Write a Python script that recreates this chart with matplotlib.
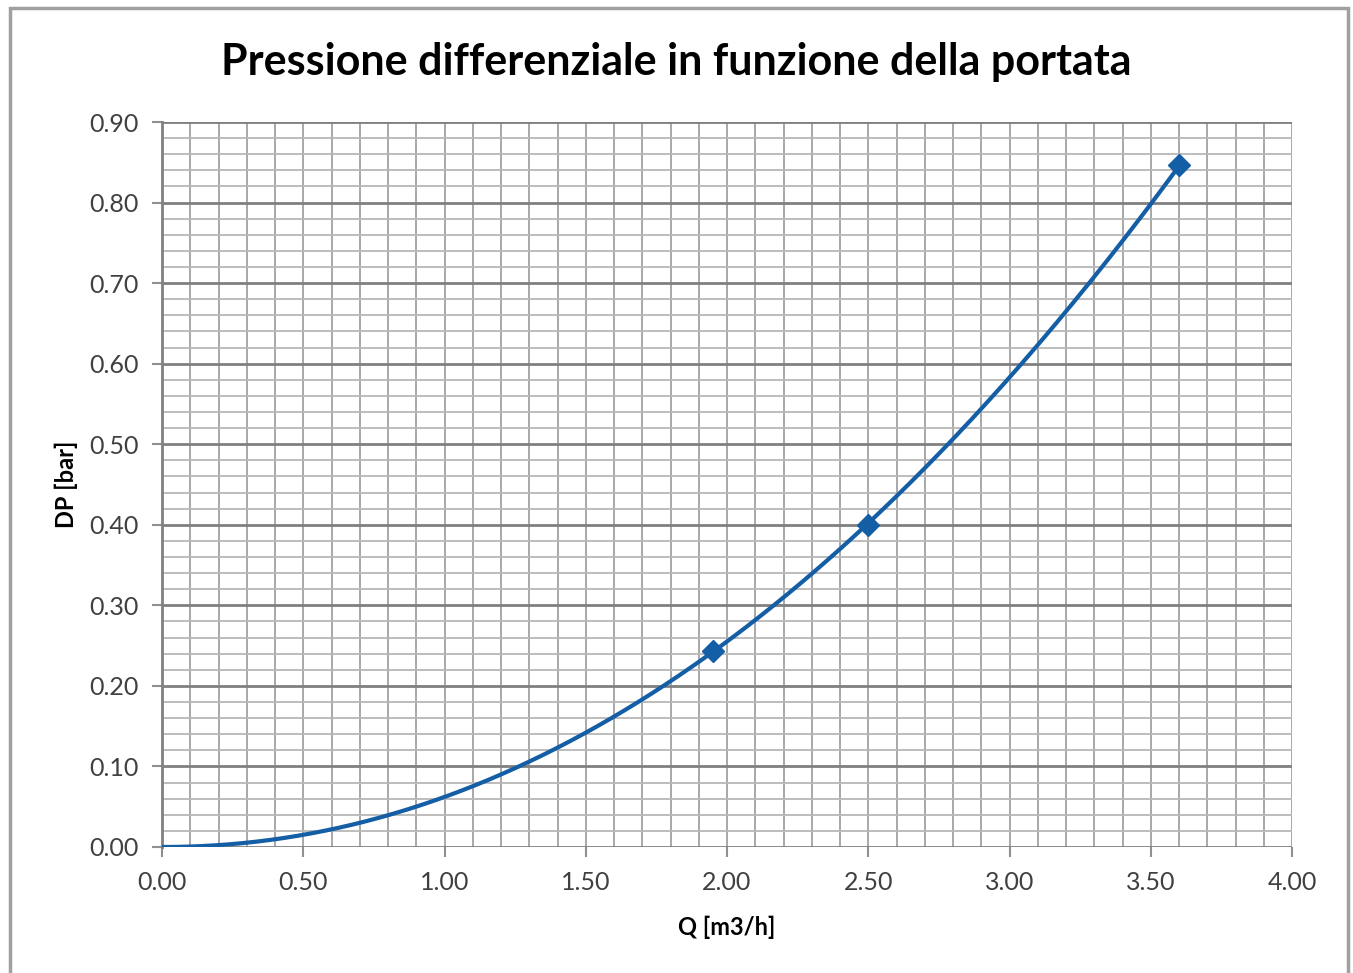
import numpy as np
import matplotlib
matplotlib.use('Agg')
import matplotlib.pyplot as plt
from matplotlib.patches import Rectangle
from matplotlib.ticker import MultipleLocator, FormatStrFormatter

# measured points
portata = [1.95, 2.50, 3.60]      # Q [m3/h]
pressione = [0.243, 0.400, 0.847]  # DP [bar]

title = 'Pressione differenziale in funzione della portata'
x_label = 'Q [m3/h]'
y_label = 'DP [bar]'

plt.rcParams['font.family'] = ['Lato', 'DejaVu Sans']

fig = plt.figure(figsize=(13.53, 9.73), dpi=100)
W, H = 1353, 973

# chart area border
fig.patches.append(Rectangle((10 / W, -0.02), 1338 / W, 1.0 - 8 / H + 0.02,
                             transform=fig.transFigure, fill=False,
                             edgecolor='#a0a0a0', linewidth=2.5))

ax = fig.add_axes([162 / W, 1 - 847 / H, 1130 / W, 725 / H])

# power trendline fitted on the points (as the spreadsheet does)
b, log_a = np.polyfit(np.log(portata), np.log(pressione), 1)
q = np.linspace(0, 3.6, 300)
ax.plot(q, np.exp(log_a) * q ** b, color='#145ea6', linewidth=3, zorder=3)
ax.plot(portata, pressione, linestyle='none', marker='D', markersize=11,
        color='#145ea6', zorder=4)

ax.set_xlim(0, 4.0)
ax.set_ylim(0, 0.9)
ax.xaxis.set_major_locator(MultipleLocator(0.5))
ax.xaxis.set_minor_locator(MultipleLocator(0.1))
ax.yaxis.set_major_locator(MultipleLocator(0.1))
ax.yaxis.set_minor_locator(MultipleLocator(0.02))
ax.xaxis.set_major_formatter(FormatStrFormatter('%.2f'))
ax.yaxis.set_major_formatter(FormatStrFormatter('%.2f'))

ax.xaxis.grid(True, which='both', color='#a8a8a8', linewidth=1.4)
ax.yaxis.grid(True, which='major', color='#808080', linewidth=2)
ax.yaxis.grid(True, which='minor', color='#b8b8b8', linewidth=1.3)
ax.set_axisbelow(True)

for s in ['top', 'right', 'bottom']:
    ax.spines[s].set_visible(False)
ax.spines['left'].set_color('#808080')
ax.spines['left'].set_linewidth(2)

ax.tick_params(which='major', length=7, width=1.5, color='#909090',
               labelsize=18, labelcolor='#404040', pad=10)
ax.tick_params(which='minor', length=0)

fig.text(0.5, 1 - 62 / H, title, ha='center', va='center',
         fontsize=31, fontweight='bold')
ax.set_xlabel(x_label, fontsize=17, fontweight='bold', labelpad=16)
ax.set_ylabel(y_label, fontsize=17, fontweight='bold', labelpad=8)

fig.savefig('out.png', dpi=100)
